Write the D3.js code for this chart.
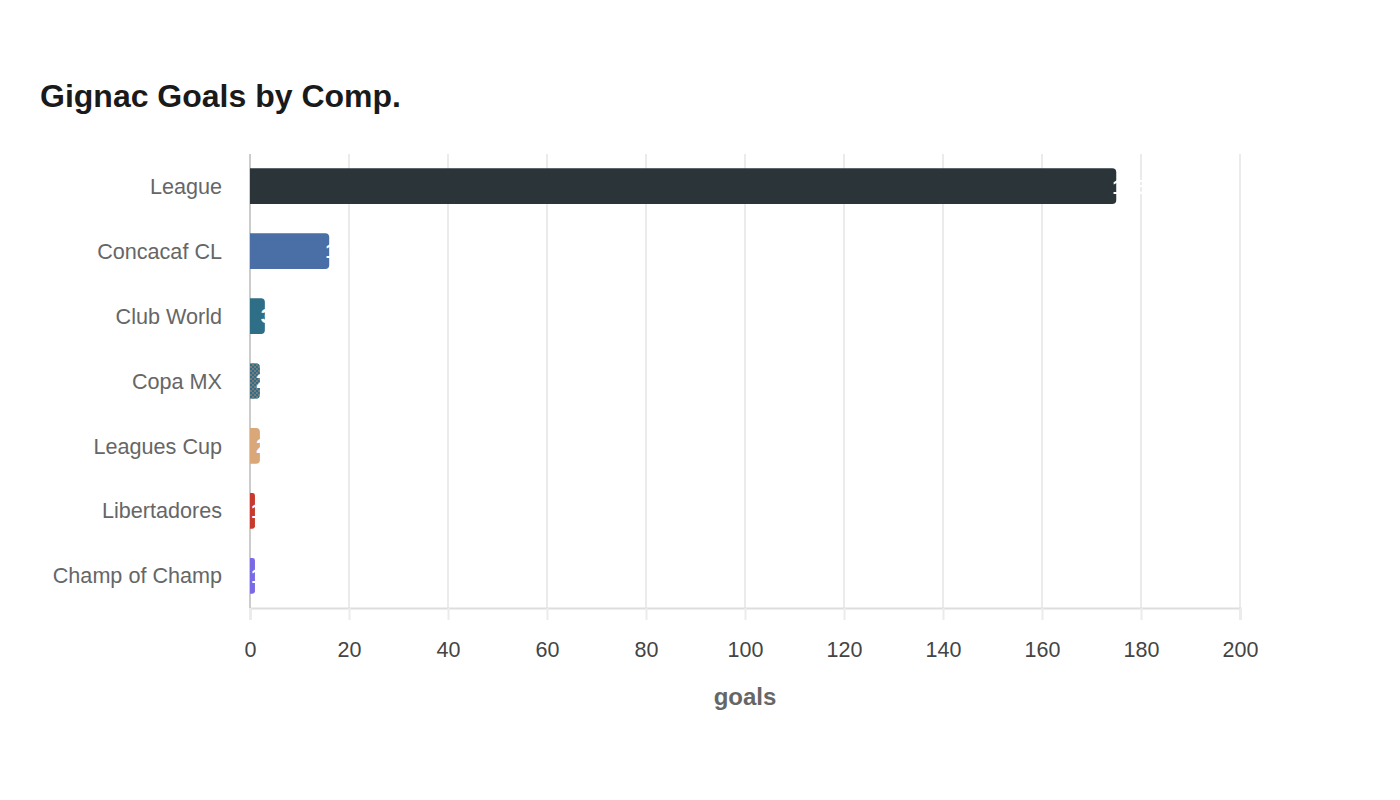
<!DOCTYPE html>
<html>
<head>
<meta charset="utf-8">
<script src="https://cdn.jsdelivr.net/npm/d3@7"></script>
<style>
  body { margin: 0; background: #fff; }
  text { font-family: "Liberation Sans", Arial, sans-serif; }
</style>
</head>
<body>
<div id="chart"></div>
<script>
const competitions = ['League', 'Concacaf CL', 'Club World', 'Copa MX', 'Leagues Cup', 'Libertadores', 'Champ of Champ']
const goals = [175, 16, 3, 2, 2, 1, 1]
const colors = ['#2b3438', '#4a6ea6', '#2e6e86', 'url(#checker)', '#d9a778', '#c83a2e', '#7a6ae6']
const xTicks = [0, 20, 40, 60, 80, 100, 120, 140, 160, 180, 200]

const W = 1400, H = 800
const margin = { top: 154, right: 160, bottom: 192, left: 250 }

const svg = d3.select('#chart')
  .append('svg')
  .attr('width', W)
  .attr('height', H)

const defs = svg.append('defs')
const pat = defs.append('pattern')
  .attr('id', 'checker')
  .attr('width', 4).attr('height', 4)
  .attr('patternUnits', 'userSpaceOnUse')
pat.append('rect').attr('width', 4).attr('height', 4).attr('fill', '#2e6e86')
pat.append('rect').attr('width', 2).attr('height', 2).attr('fill', '#7a7a7a')
pat.append('rect').attr('x', 2).attr('y', 2).attr('width', 2).attr('height', 2).attr('fill', '#7a7a7a')

const x = d3.scaleLinear()
  .domain([0, 200])
  .range([margin.left, W - margin.right])

const y = d3.scaleBand()
  .domain(competitions)
  .range([margin.top, H - margin.bottom])
  .paddingInner(0.45)
  .paddingOuter(0.22)

// title
svg.append('text')
  .attr('x', 40).attr('y', 107)
  .attr('font-size', 32).attr('font-weight', 'bold')
  .attr('fill', '#1a1a1a')
  .text('Gignac Goals by Comp.')

// grid
svg.append('g')
  .selectAll('line')
  .data(xTicks.slice(1))
  .enter()
  .append('line')
  .attr('x1', d => x(d)).attr('x2', d => x(d))
  .attr('y1', margin.top).attr('y2', H - margin.bottom)
  .attr('stroke', '#ebebeb').attr('stroke-width', 2)

// x axis
const xAxis = svg.append('g')
  .attr('transform', `translate(0, ${H - margin.bottom})`)
  .call(d3.axisBottom(x).tickValues(xTicks).tickSize(12).tickPadding(22))
xAxis.select('.domain').attr('stroke', '#ddd').attr('stroke-width', 2)
xAxis.selectAll('.tick line').attr('stroke', '#ebebeb').attr('stroke-width', 2)
xAxis.selectAll('.tick text')
  .attr('font-size', 21.5).attr('fill', '#444')
  .attr('font-family', '"Liberation Sans", Arial, sans-serif')

// y axis line
svg.append('line')
  .attr('x1', x(0)).attr('x2', x(0))
  .attr('y1', margin.top).attr('y2', H - margin.bottom)
  .attr('stroke', '#ccc').attr('stroke-width', 2)

// y labels
svg.append('g')
  .selectAll('text')
  .data(competitions)
  .enter()
  .append('text')
  .attr('x', 222)
  .attr('y', d => y(d) + y.bandwidth() / 2)
  .attr('dy', '0.35em')
  .attr('text-anchor', 'end')
  .attr('font-size', 21.6)
  .attr('fill', '#666')
  .text(d => d)

// bars
const gBar = svg.append('g')
  .selectAll('g')
  .data(competitions.map((c, i) => ({ name: c, value: goals[i], color: colors[i] })))
  .enter()
  .append('g')

gBar.append('path')
  .attr('d', d => roundedBar(x(0), y(d.name), x(d.value) - x(0), y.bandwidth(), 4))
  .attr('fill', d => d.color)

gBar.append('text')
  .attr('x', d => x(d.value) - 4)
  .attr('y', d => y(d.name) + y.bandwidth() / 2)
  .attr('dy', '0.35em')
  .attr('font-size', 21)
  .attr('font-weight', 'bold')
  .attr('fill', '#fff')
  .text(d => d.value)

// axis title
svg.append('text')
  .attr('x', (x(0) + x(200)) / 2).attr('y', 705)
  .attr('text-anchor', 'middle')
  .attr('font-size', 24).attr('font-weight', 'bold')
  .attr('fill', '#666')
  .text('goals')

function roundedBar(x0, y0, w, h, r) {
  const rr = Math.min(r, w / 2)
  return `M${x0},${y0}H${x0 + w - rr}Q${x0 + w},${y0} ${x0 + w},${y0 + rr}` +
    `V${y0 + h - rr}Q${x0 + w},${y0 + h} ${x0 + w - rr},${y0 + h}H${x0}Z`
}
</script>
</body>
</html>
